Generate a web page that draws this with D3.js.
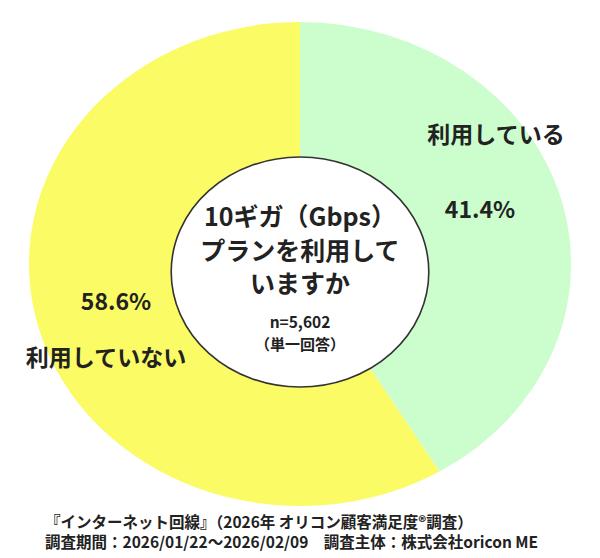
<!DOCTYPE html>
<html><head><meta charset="utf-8">
<script src="https://cdn.jsdelivr.net/npm/d3@7"></script>
<style>body{margin:0;background:#fff}text{font-family:"Noto Sans CJK JP",sans-serif;fill:#222}</style>
</head><body><svg id="chart" width="600" height="558"></svg>
<script>
var labels = ["利用している", "利用していない"];
var values = [41.4, 58.6];
var colors = ["#ccfdcc", "#fbfb66"];
var footer = ["『インターネット回線』（2026年 オリコン顧客満足度®調査）",
  "調査期間：2026/01/22～2026/02/09　調査主体：株式会社oricon ME"];

var svg = d3.select("#chart");
var cx = 300, cy = 264, R = 242, r = 115, sx = 1.12;
var g = svg.append("g").attr("transform", "translate(" + cx + "," + cy + ") scale(" + sx + ",1)");
var pie = d3.pie().sort(null)(values);
var arc = d3.arc().innerRadius(0).outerRadius(R);
g.selectAll("path").data(pie).enter().append("path")
  .attr("d", arc).attr("fill", (d, i) => colors[i]);
g.append("circle").attr("cy", 8).attr("r", r).attr("fill", "#fff").attr("stroke", "#333")
  .attr("stroke-width", 1.6).attr("vector-effect", "non-scaling-stroke");

// slice labels
var pos = [{n: [496, 143], p: [480, 218]}, {n: [106, 366], p: [116, 310]}];
pie.forEach(function(d, i) {
  svg.append("text").attr("x", pos[i].n[0]).attr("y", pos[i].n[1]).attr("text-anchor", "middle")
    .attr("font-size", 23).attr("font-weight", 600).text(labels[i]);
  svg.append("text").attr("x", pos[i].p[0]).attr("y", pos[i].p[1]).attr("text-anchor", "middle")
    .attr("font-size", 23).attr("font-weight", 600).text(values[i].toFixed(1) + "%");
});

// centre text
[["10ギガ（Gbps）", 226], ["プランを利用して", 260], ["いますか", 293]].forEach(function(t) {
  svg.append("text").attr("x", 300).attr("y", t[1]).attr("text-anchor", "middle")
    .attr("font-size", 25).attr("font-weight", 600).text(t[0]);
});
svg.append("text").attr("x", 300).attr("y", 328).attr("text-anchor", "middle").attr("font-size", 15.5).attr("font-weight", 600).text("n=5,602");
svg.append("text").attr("x", 300).attr("y", 350).attr("text-anchor", "middle").attr("font-size", 15).attr("font-weight", 600).text("（単一回答）");

footer.forEach(function(t, i) {
  svg.append("text").attr("x", 45).attr("y", 528 + i * 20).attr("font-size", 15.5).attr("font-weight", 600).text(t);
});
</script></body></html>
